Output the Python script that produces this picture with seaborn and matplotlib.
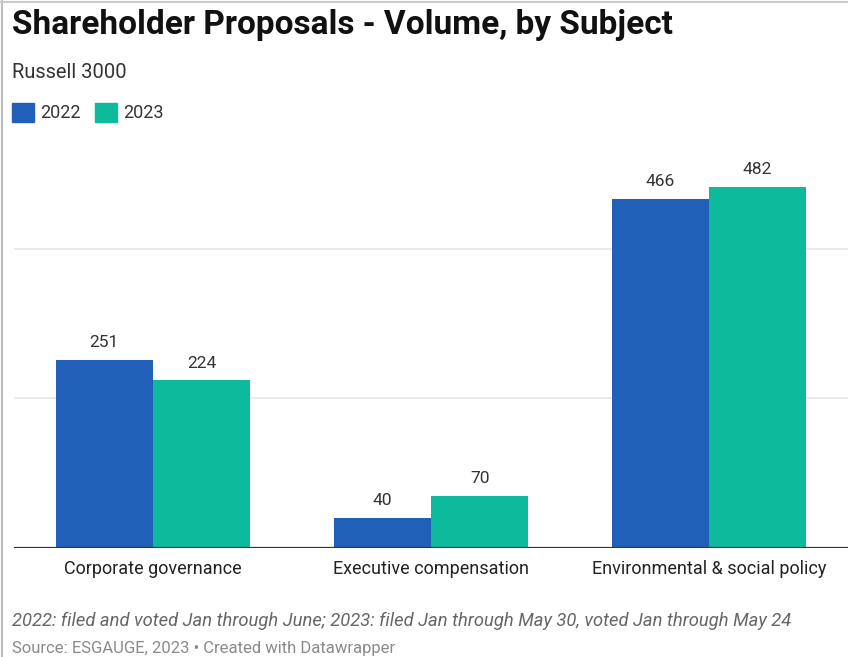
import matplotlib
matplotlib.use("Agg")
import matplotlib.pyplot as plt
from matplotlib.lines import Line2D
import seaborn as sns
import pandas as pd

# Data
subjects = ["Corporate governance", "Executive compensation", "Environmental & social policy"]
years = ["2022", "2023"]
counts_2022 = [251, 40, 466]
counts_2023 = [224, 70, 482]
colors = ["#2160b8", "#0dba9b"]
grid_values = [200, 400]

df = pd.DataFrame({
    "subject": subjects * 2,
    "year": [years[0]] * 3 + [years[1]] * 3,
    "count": counts_2022 + counts_2023,
})

sns.set_theme(style="white")
plt.rcParams["font.family"] = ["Roboto", "DejaVu Sans"]

W, H = 848, 657
fig = plt.figure(figsize=(W / 100, H / 100), dpi=100)
ax = fig.add_axes([14 / W, 1 - 548 / H, 1 - 14 / W, (548 - 170) / H])

sns.barplot(data=df, x="subject", y="count", hue="year", palette=colors,
            width=0.7, saturation=1, ax=ax, legend=False, linewidth=0)

ax.set_xlim(-0.5, 2.5)
ax.set_ylim(0, 505)
for g in grid_values:
    ax.axhline(g, color="#e6e6e6", linewidth=1.2, zorder=0)
ax.axhline(0, color="#333333", linewidth=1.6, zorder=5)

for cont in ax.containers:
    ax.bar_label(cont, padding=7, fontsize=12.5, color="#333333")

for s in ax.spines.values():
    s.set_visible(False)
ax.set_yticks([])
ax.set_xlabel("")
ax.set_ylabel("")
ax.tick_params(axis="x", length=0, pad=9, labelsize=13, labelcolor="#222222")

# Titles
fig.text(12 / W, 1 - 25 / H, "Shareholder Proposals - Volume, by Subject",
         fontsize=24, fontweight="bold", color="#111111", va="center", ha="left")
fig.text(12 / W, 1 - 73 / H, "Russell 3000", fontsize=14.5, color="#333333",
         va="center", ha="left")

# Legend
legend_items = [(12, years[0], colors[0]), (95, years[1], colors[1])]
for x0, lab, col in legend_items:
    fig.patches.append(plt.Rectangle((x0 / W, 1 - 122 / H), 22 / W, 19 / H,
                                     transform=fig.transFigure, color=col))
    fig.text((x0 + 28) / W, 1 - 113 / H, lab, fontsize=13, color="#333333",
             va="center", ha="left")

# Notes
fig.text(12 / W, 1 - 621 / H,
         "2022: filed and voted Jan through June; 2023: filed Jan through May 30, voted Jan through May 24",
         fontsize=13.2, style="italic", color="#666666", va="center", ha="left")
fig.text(12 / W, 1 - 648 / H, "Source: ESGAUGE, 2023 \u2022 Created with Datawrapper",
         fontsize=12, color="#8a8a8a", va="center", ha="left")

# Frame lines
fig.add_artist(Line2D([2 / W, 2 / W], [0, 1], color="#bbbbbb", linewidth=1.5))
fig.add_artist(Line2D([0, 1], [1 - 2 / H, 1 - 2 / H], color="#cccccc", linewidth=1.5))

fig.savefig("out.png", dpi=100)
